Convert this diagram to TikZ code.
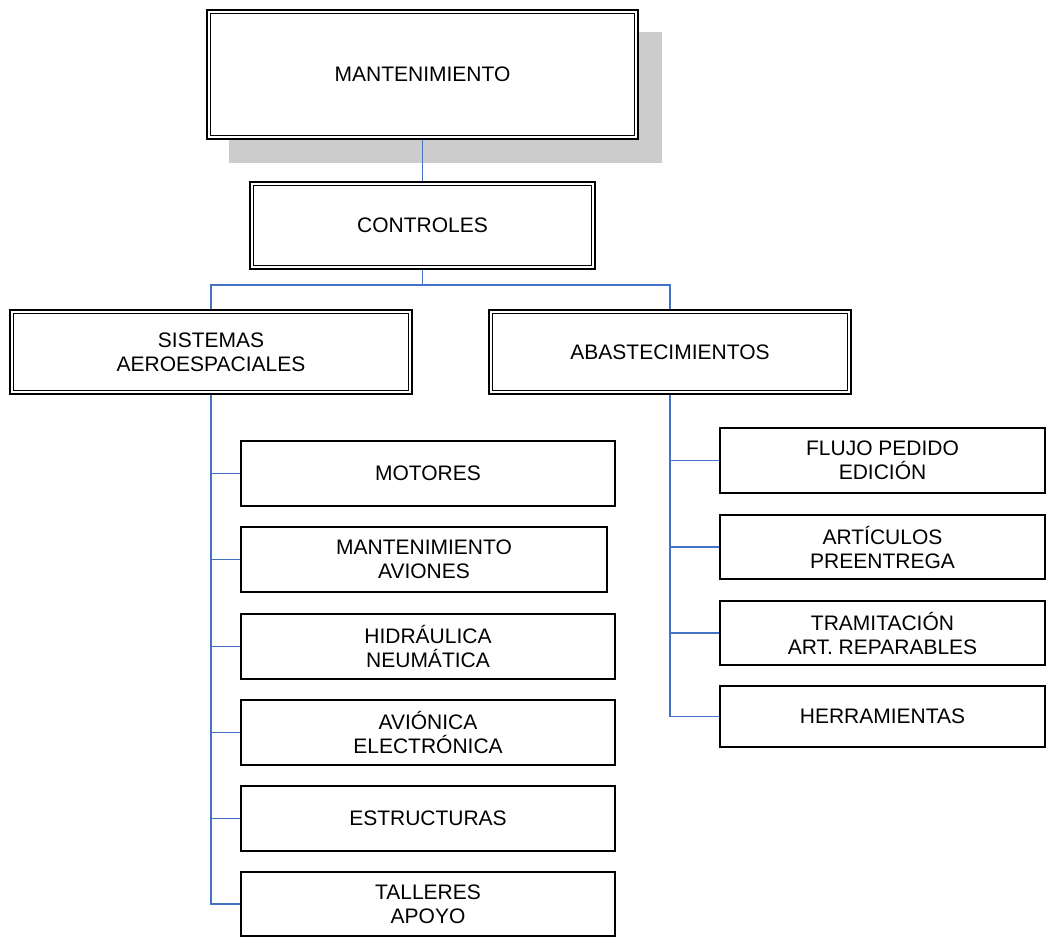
\documentclass[tikz,border=0pt]{standalone}
\usepackage{fontspec}
\setmainfont{Liberation Sans}
\usetikzlibrary{calc}
\definecolor{linkblue}{RGB}{68,114,196}
\definecolor{shadowgray}{RGB}{204,204,204}
\tikzset{
  px/.style={x=0.75pt,y=-0.75pt},
  txt/.style={font=\fontsize{15.75}{18}\selectfont, align=center, text=black, inner sep=0pt},
  plainbox/.style={txt, draw=black, line width=1.5pt, fill=white, rectangle},
  dblbox/.style={txt, draw=black, line width=1.6pt, fill=white, rectangle},
  link/.style={draw=linkblue, line width=1.1pt},
}
\newcommand\innerline[1]{\draw[line width=1.1pt] ([xshift=3.4pt,yshift=-3.4pt]#1.north west) rectangle ([xshift=-3.4pt,yshift=3.4pt]#1.south east);}
\begin{document}
\begin{tikzpicture}[px]
\useasboundingbox (0,0) rectangle (1048,938);
% shadow
\fill[shadowgray] (229,32) rectangle (662,163);
% top level
\node[dblbox, minimum width=431*0.75pt, minimum height=129*0.75pt] (mant) at (422.5,74.5) {MANTENIMIENTO};
\innerline{mant}
\node[dblbox, minimum width=345*0.75pt, minimum height=87*0.75pt] (ctrl) at (422.5,225.5) {CONTROLES};
\innerline{ctrl}
\node[dblbox, minimum width=402*0.75pt, minimum height=84*0.75pt] (sis) at (211,352) {SISTEMAS\\AEROESPACIALES};
\innerline{sis}
\node[dblbox, minimum width=362*0.75pt, minimum height=84*0.75pt] (aba) at (670,352) {ABASTECIMIENTOS};
\innerline{aba}
% left children
\node[plainbox, minimum width=374*0.75pt, minimum height=65*0.75pt] (mot) at (428,473.5) {MOTORES};
\node[plainbox, minimum width=366*0.75pt, minimum height=65*0.75pt] (mav) at (424,559.5) {MANTENIMIENTO\\AVIONES};
\node[plainbox, minimum width=374*0.75pt, minimum height=65*0.75pt] (hid) at (428,646.5) {HIDRÁULICA\\NEUMÁTICA};
\node[plainbox, minimum width=374*0.75pt, minimum height=65*0.75pt] (avi) at (428,732.5) {AVIÓNICA\\ELECTRÓNICA};
\node[plainbox, minimum width=374*0.75pt, minimum height=65*0.75pt] (est) at (428,818.5) {ESTRUCTURAS};
\node[plainbox, minimum width=374*0.75pt, minimum height=64*0.75pt] (tal) at (428,904) {TALLERES\\APOYO};
% right children
\node[plainbox, minimum width=325*0.75pt, minimum height=65*0.75pt] (flu) at (882.5,460.5) {FLUJO PEDIDO\\EDICIÓN};
\node[plainbox, minimum width=325*0.75pt, minimum height=64*0.75pt] (art) at (882.5,547) {ARTÍCULOS\\PREENTREGA};
\node[plainbox, minimum width=325*0.75pt, minimum height=64*0.75pt] (tra) at (882.5,633) {TRAMITACIÓN\\ART. REPARABLES};
\node[plainbox, minimum width=325*0.75pt, minimum height=61*0.75pt] (her) at (882.5,716.5) {HERRAMIENTAS};
% connectors
\draw[link] (mant.south) -- (ctrl.north);
\coordinate (bus) at ($(ctrl.south)+(0,15)$);
\draw[link] (ctrl.south) -- (bus) -| (sis.north);
\draw[link] (bus) -| (aba.north);
\foreach \n in {mot,mav,hid,avi,est,tal} {\draw[link] (sis.south) |- (\n.west);}
\foreach \n in {flu,art,tra,her} {\draw[link] (aba.south) |- (\n.west);}
\end{tikzpicture}
\end{document}
